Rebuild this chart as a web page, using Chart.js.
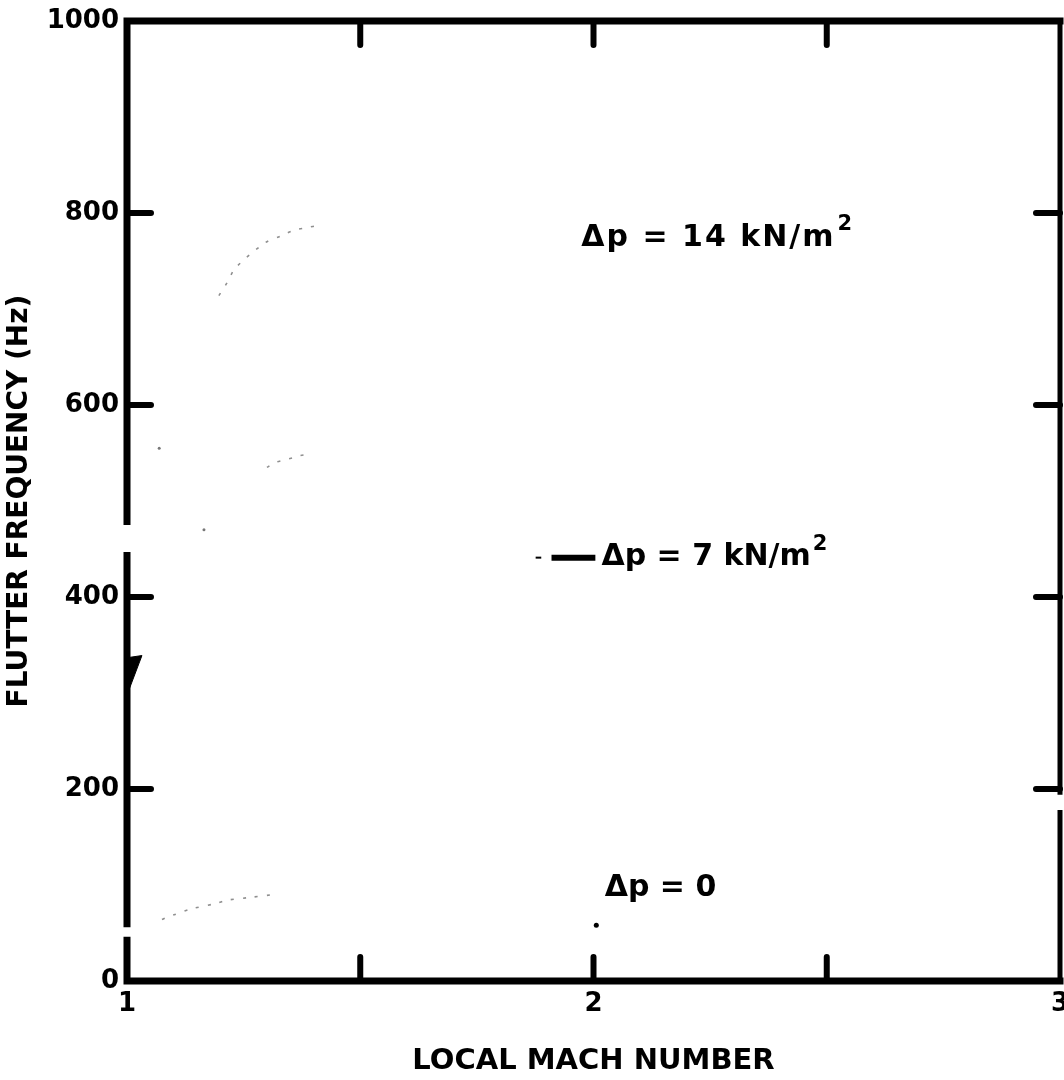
<!DOCTYPE html>
<html><head><meta charset="utf-8">
<script src="https://cdn.jsdelivr.net/npm/chart.js@4/dist/chart.umd.min.js"></script>
<style>html,body{margin:0;padding:0;background:#fff;overflow:hidden}</style>
</head><body>
<canvas id="c" width="1064" height="1080"></canvas>
<script>
// ---- data ----
const xTickLabels = ['1', '2', '3'];
const yTickLabels = ['0', '200', '400', '600', '800', '1000'];
const innerXTicks = [1.5, 2, 2.5];
const innerYTicks = [200, 400, 600, 800];

const dp14Mach = [1.197, 1.214, 1.233, 1.296, 1.330, 1.358, 1.388, 1.409];
const dp14Freq = [714, 727, 743, 769, 776, 782, 785, 787];
const dp7Mach = [1.300, 1.317, 1.340, 1.355, 1.368, 1.396];
const dp7Freq = [535, 540, 543, 545, 547, 549];
const dp0Mach = [1.075, 1.084, 1.101, 1.137, 1.193, 1.212, 1.263, 1.313];
const dp0Freq = [64, 66, 69, 75, 81, 84, 87, 90];
const speckMach = [1.069, 1.165];
const speckFreq = [555, 470];
const leaderMach = [1.910, 2.004];
const leaderFreq = [441, 441];
const dashMach = [1.876, 1.888];
const dashFreq = [441, 441];
const dotMach = [2.006];
const dotFreq = [58];
const wedgeMach = [1.004, 1.032, 1.004, 1.004];
const wedgeFreq = [337, 339, 303, 337];

const annText = ['Δp = 14 kN/m', 'Δp = 7 kN/m', 'Δp = 0'];
const annSup = ['2', '2', ''];
const annMach = [1.974, 2.017, 2.024];
const annFreq = [774, 441, 97];
const annLetterSpacing = ['2px', '0px', '0px'];

// axis line pieces (Hz ranges), broken like the scanned original
const leftAxisPieces = [[0, 46], [56, 447], [475, 1000]];
const rightAxisPieces = [[0, 178], [194, 1000]];

const pts = (xs, ys) => xs.map((x, i) => ({x: x, y: ys[i]}));
const FONT = '"DejaVu Sans", "Liberation Sans", sans-serif';

const framePlugin = {
  id: 'frame',
  afterDatasetsDraw(chart) {
    const ctx = chart.ctx;
    const xs = chart.scales.x, ys = chart.scales.y;
    const L = xs.getPixelForValue(1), R = xs.getPixelForValue(3);
    const T = ys.getPixelForValue(1000), B = ys.getPixelForValue(0);
    ctx.save();
    ctx.strokeStyle = '#000';
    ctx.lineCap = 'butt';
    ctx.lineWidth = 7;
    ctx.beginPath();
    ctx.moveTo(L - 3.5, T); ctx.lineTo(R + 3.5, T);
    ctx.moveTo(L - 3.5, B); ctx.lineTo(R + 3.5, B);
    leftAxisPieces.forEach(p => { ctx.moveTo(L, ys.getPixelForValue(p[0])); ctx.lineTo(L, ys.getPixelForValue(p[1])); });
    ctx.stroke();
    ctx.lineWidth = 5;
    ctx.beginPath();
    rightAxisPieces.forEach(p => { ctx.moveTo(R, ys.getPixelForValue(p[0])); ctx.lineTo(R, ys.getPixelForValue(p[1])); });
    ctx.stroke();
    // inner ticks
    ctx.lineWidth = 6;
    ctx.lineCap = 'round';
    ctx.beginPath();
    innerXTicks.forEach(v => {
      const px = xs.getPixelForValue(v);
      ctx.moveTo(px, T); ctx.lineTo(px, T + 24);
      ctx.moveTo(px, B); ctx.lineTo(px, B - 24);
    });
    innerYTicks.forEach(v => {
      const py = ys.getPixelForValue(v);
      ctx.moveTo(L, py); ctx.lineTo(L + 24, py);
      ctx.moveTo(R, py); ctx.lineTo(R - 24, py);
    });
    ctx.stroke();
    // annotations
    ctx.fillStyle = '#000';
    ctx.textBaseline = 'middle';
    ctx.textAlign = 'left';
    annText.forEach((t, i) => {
      const px = xs.getPixelForValue(annMach[i]);
      const py = ys.getPixelForValue(annFreq[i]);
      ctx.font = 'bold 30px ' + FONT;
      if ('letterSpacing' in ctx) ctx.letterSpacing = annLetterSpacing[i];
      ctx.fillText(t, px, py);
      if (annSup[i]) {
        const w = ctx.measureText(t).width;
        if ('letterSpacing' in ctx) ctx.letterSpacing = '0px';
        ctx.font = 'bold 21px ' + FONT;
        ctx.fillText(annSup[i], px + w + 2, py - 13);
      }
    });
    if ('letterSpacing' in ctx) ctx.letterSpacing = '0px';
    ctx.restore();
  }
};

const faint = {borderColor: '#8f8f8f', borderWidth: 1.6, borderDash: [3, 9], pointRadius: 0, showLine: true, fill: false, tension: 0.3};

new Chart(document.getElementById('c'), {
  type: 'scatter',
  data: {
    datasets: [
      Object.assign({label: 'Δp = 14 kN/m²', data: pts(dp14Mach, dp14Freq)}, faint),
      Object.assign({label: 'Δp = 7 kN/m²', data: pts(dp7Mach, dp7Freq)}, faint),
      Object.assign({label: 'Δp = 0', data: pts(dp0Mach, dp0Freq)}, faint),
      {label: 'specks', data: pts(speckMach, speckFreq), pointRadius: 1.5, backgroundColor: '#777', borderWidth: 0, showLine: false},
      {label: 'leader', data: pts(leaderMach, leaderFreq), borderColor: '#000', borderWidth: 6, pointRadius: 0, showLine: true},
      {label: 'dash', data: pts(dashMach, dashFreq), borderColor: '#000', borderWidth: 2, pointRadius: 0, showLine: true},
      {label: 'dot', data: pts(dotMach, dotFreq), pointRadius: 2.5, backgroundColor: '#000', borderWidth: 0, showLine: false},
      {label: 'wedge', data: pts(wedgeMach, wedgeFreq), borderColor: '#000', borderWidth: 1, backgroundColor: '#000', pointRadius: 0, showLine: true, fill: 'shape'}
    ]
  },
  options: {
    responsive: false,
    animation: false,
    layout: {padding: {top: 21, right: 3, left: 0, bottom: 0}},
    plugins: {legend: {display: false}, tooltip: {enabled: false}},
    scales: {
      x: {
        type: 'linear', position: 'bottom', min: 1, max: 3,
        grid: {display: false, drawTicks: false},
        border: {display: false},
        ticks: {stepSize: 1, padding: 8, color: '#000', maxRotation: 0,
          font: {family: FONT, size: 26, weight: 'bold'},
          callback: (v, i) => xTickLabels[i]},
        title: {display: true, text: 'LOCAL MACH NUMBER', color: '#000',
          font: {family: FONT, size: 29, weight: 'bold', lineHeight: 1},
          padding: {top: 0, bottom: 4}},
        afterFit: s => { s.height = 99; s.paddingLeft = 0; s.paddingRight = 0; }
      },
      y: {
        type: 'linear', position: 'left', min: 0, max: 1000,
        grid: {display: false, drawTicks: false},
        border: {display: false},
        ticks: {stepSize: 200, padding: 8, color: '#000',
          font: {family: FONT, size: 26, weight: 'bold'},
          callback: (v, i) => yTickLabels[i]},
        title: {display: true, text: 'FLUTTER FREQUENCY (Hz)', color: '#000',
          font: {family: FONT, size: 28, weight: 'bold', lineHeight: 1},
          padding: {top: 6, bottom: 0}},
        afterFit: s => { s.width = 127; s.paddingTop = 0; s.paddingBottom = 0; }
      }
    }
  },
  plugins: [framePlugin]
});
</script>
</body></html>
